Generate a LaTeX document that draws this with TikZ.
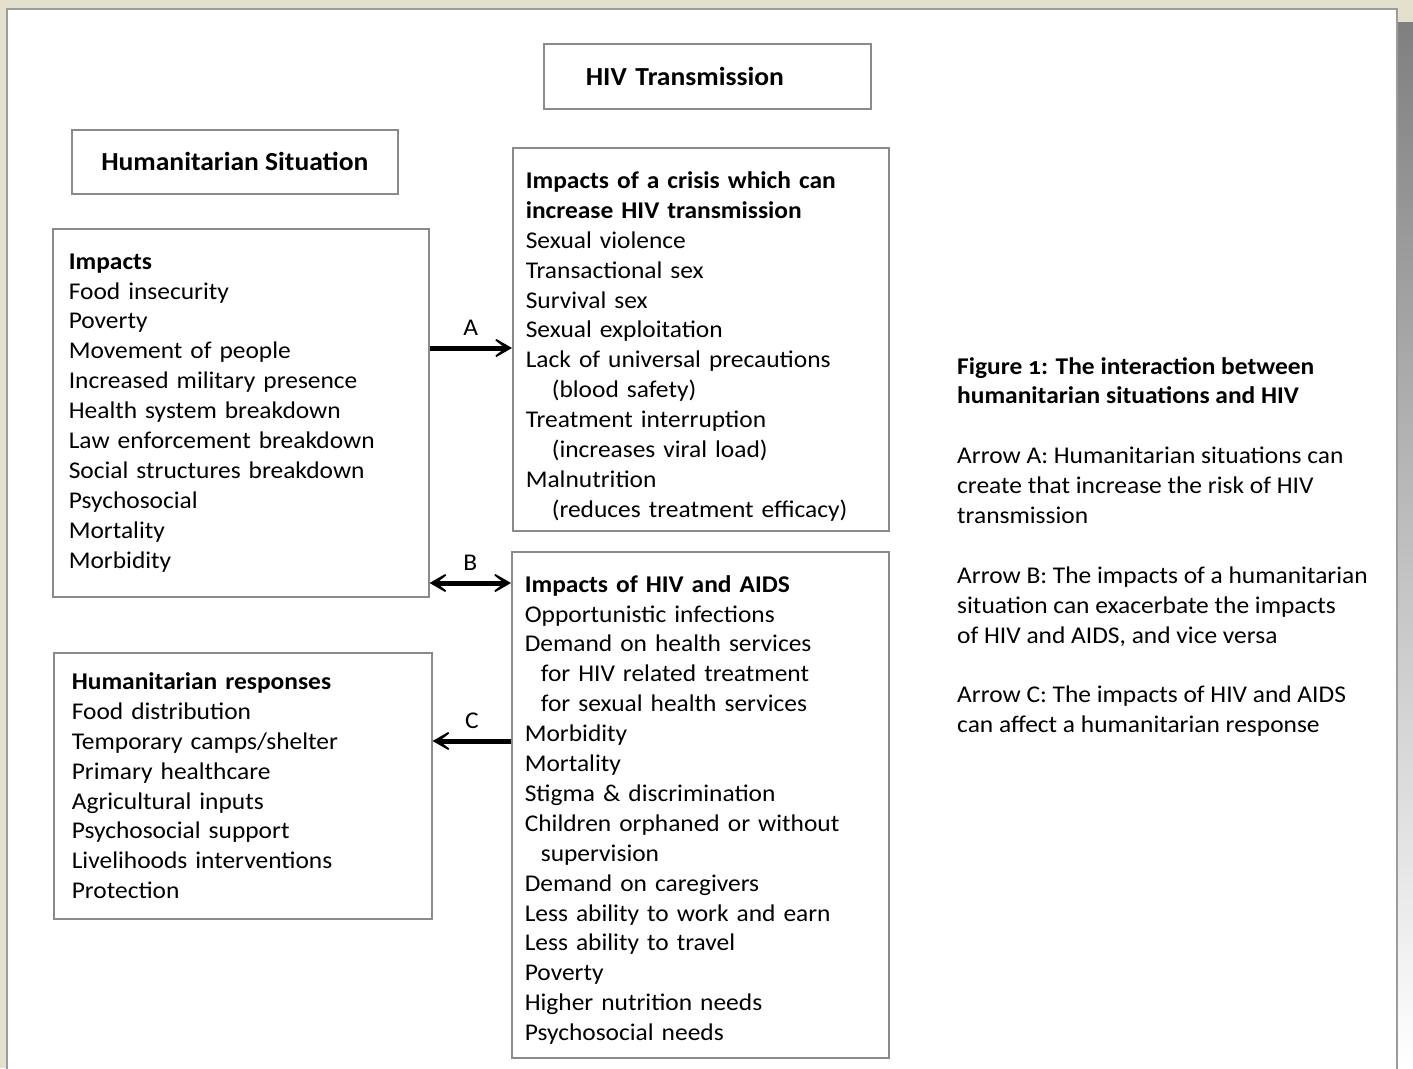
\documentclass[tikz,border=0pt]{standalone}
\usepackage{fontspec}
\setmainfont{Carlito}[Numbers=OldStyle,FakeStretch=1.06]
\usetikzlibrary{arrows.meta}
\definecolor{pagebeige}{HTML}{E3E1CD}
\definecolor{pageedge}{HTML}{9C9C9C}
\definecolor{shade}{HTML}{808080}
\definecolor{boxgrey}{HTML}{8A8A8A}

\begin{document}
\begin{tikzpicture}[x=1pt,y=-1pt,
	box/.style={draw=boxgrey,line width=1.6pt,anchor=north west,inner ysep=0pt},
	titlebox/.style={box,font=\fontsize{26}{30}\selectfont\bfseries},
	listbox/.style={box,align=left,font=\fontsize{24}{29.9}\selectfont},
	flow/.style={line width=5pt,arrows={-Stealth[length=26pt,width=30pt,inset=19pt]}},
	flowboth/.style={line width=5pt,arrows={Stealth[length=26pt,width=30pt,inset=19pt]-Stealth[length=26pt,width=30pt,inset=19pt]}},
	arrowlabel/.style={font=\fontsize{24}{28}\selectfont,inner sep=0pt}]
	% page
	\useasboundingbox (0,0) rectangle (1413,1068);
	\fill[pagebeige] (0,0) rectangle (1413,1068);
	\fill[shade] (1397,22) rectangle (1413,1068);
	\draw[pageedge,line width=2pt,fill=white] (7,9) rectangle (1397,1080);

	% titles
	\node[titlebox,minimum width=327,minimum height=65,text width=243,inner xsep=42,align=left] (hivtitle) at (543,43) {HIV Transmission};
	\node[titlebox,minimum width=326,minimum height=64,align=center] (humtitle) at (71,129) {Humanitarian Situation};

	% boxes
	\node[listbox,minimum height=368,text width=344,inner xsep=16] (impacts) at (52,228) {\textbf{Impacts}\\ Food insecurity\\ Poverty\\ Movement of people\\ Increased military presence\\ Health system breakdown\\ Law enforcement breakdown\\ Social structures breakdown\\ Psychosocial\\ Mortality\\ Morbidity};
	\node[listbox,minimum height=383,text width=350,inner xsep=13] (crisis) at (512,147) {\rule{0pt}{31pt}\textbf{Impacts of a crisis which can}\\ \textbf{increase HIV transmission}\\ Sexual violence\\ Transactional sex\\ Survival sex\\ Sexual exploitation\\ Lack of universal precautions\\ \hspace*{26pt}(blood safety)\\ Treatment interruption\\ \hspace*{26pt}(increases viral load)\\ Malnutrition\\ \hspace*{26pt}(reduces treatment efficacy)};
	\node[listbox,minimum height=506,text width=351,inner xsep=13] (hivaids) at (511,551) {\rule{0pt}{27pt}\textbf{Impacts of HIV and AIDS}\\ Opportunistic infections\\ Demand on health services\\ \hspace*{16pt}for HIV related treatment\\ \hspace*{16pt}for sexual health services\\ Morbidity\\ Mortality\\ Stigma \& discrimination\\ Children orphaned or without\\ \hspace*{16pt}supervision\\ Demand on caregivers\\ Less ability to work and earn\\ Less ability to travel\\ Poverty\\ Higher nutrition needs\\ Psychosocial needs};
	\node[listbox,minimum height=266,text width=342,inner xsep=18] (responses) at (53,652) {\textbf{Humanitarian responses}\\ Food distribution\\ Temporary camps/shelter\\ Primary healthcare\\ Agricultural inputs\\ Psychosocial support\\ Livelihoods interventions\\ Protection};

	% arrows
	\draw[flow] (impacts.east |- 0,348) -- node[arrowlabel,above=10pt] (labela) {A} (crisis.west |- 0,348);
	\draw[flowboth] (impacts.east |- 0,583) -- node[arrowlabel,above=10pt] (labelb) {B} (hivaids.west |- 0,583);
	\draw[flow] (hivaids.west |- 0,741) -- node[arrowlabel,above=10pt] (labelc) {C} (responses.east |- 0,741);

	% key
	\node[anchor=north west,inner sep=0pt,align=left,font=\fontsize{24}{29.9}\selectfont] (key) at (957,357) {\textbf{Figure 1: The interaction between}\\ \textbf{humanitarian situations and HIV}\\[29.9pt] Arrow A: Humanitarian situations can\\ create that increase the risk of HIV\\ transmission\\[29.9pt] Arrow B: The impacts of a humanitarian\\ situation can exacerbate the impacts\\ of HIV and AIDS, and vice versa\\[29.9pt] Arrow C: The impacts of HIV and AIDS\\ can affect a humanitarian response};
\end{tikzpicture}
\end{document}
